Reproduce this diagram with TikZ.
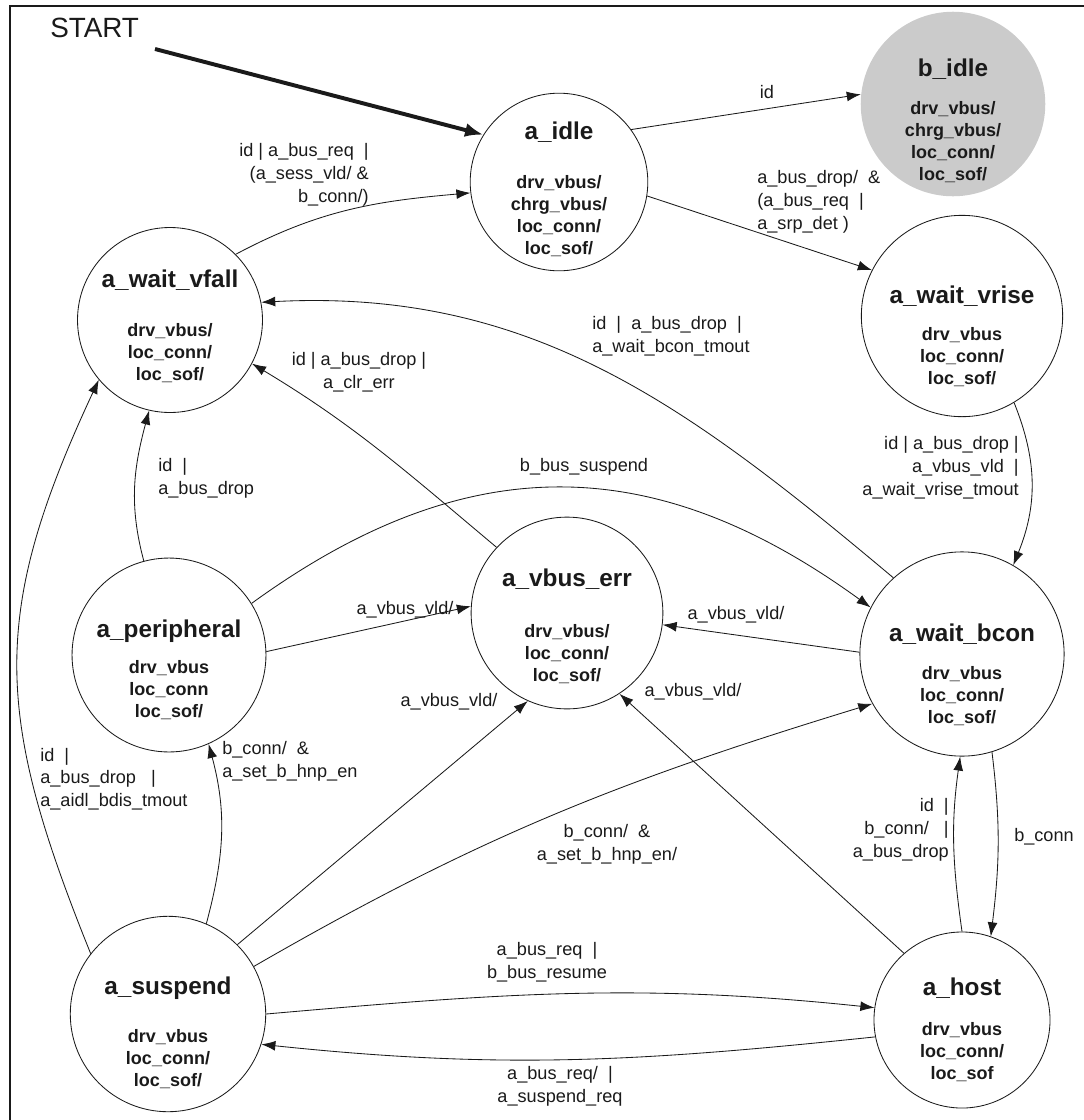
\documentclass[tikz,border=0pt]{standalone}
\usepackage{fontspec}
\setmainfont{Liberation Sans}
\usetikzlibrary{arrows.meta}
\definecolor{ink}{HTML}{1A1A1A}
\definecolor{idlegray}{HTML}{CBCBCB}
\newcommand{\stitle}[2]{{\fontsize{17.3}{20}\selectfont\rule{0pt}{#1}#2}}

\begin{document}
\begin{tikzpicture}[x=0.025cm, y=-0.025cm,
  state/.style={circle, draw=ink, line width=0.6pt, minimum size=4.4cm, inner sep=0pt, align=center, text=ink, font=\bfseries\fontsize{12.8}{15.6}\selectfont},
  cond/.style={font=\fontsize{12.9}{16.2}\selectfont, text=ink, inner sep=0pt},
  trans/.style={draw=ink, line width=0.6pt, -{Latex[length=10pt,width=7pt]}},
]
\useasboundingbox (0,0) rectangle (1084,1120);
\draw[draw=ink, line width=1.4pt] (10,1120) -- (10,6) -- (1084,6);

% states
\node[state] (idle) at (559,182) {\stitle{22.8pt}{a\_idle}\\[19.8pt]drv\_vbus/\\chrg\_vbus/\\loc\_conn/\\loc\_sof/};
\node[state, fill=idlegray, draw=none] (bidle) at (953,104) {\stitle{36.3pt}{b\_idle}\\[12pt]drv\_vbus/\\chrg\_vbus/\\loc\_conn/\\loc\_sof/};
\node[state] (vfall) at (170,320) {\stitle{21.3pt}{a\_wait\_vfall}\\[19.1pt]drv\_vbus/\\loc\_conn/\\loc\_sof/};
\node[state] (vrise) at (962,316) {\stitle{41.3pt}{a\_wait\_vrise}\\[10.6pt]drv\_vbus\\loc\_conn/\\loc\_sof/};
\node[state] (periph) at (169,655) {\stitle{33.7pt}{a\_peripheral}\\[9.6pt]drv\_vbus\\loc\_conn\\loc\_sof/};
\node[state] (vbuserr) at (567,613) {\stitle{31.3pt}{a\_vbus\_err}\\[20.5pt]drv\_vbus/\\loc\_conn/\\loc\_sof/};
\node[state] (bcon) at (962,654) {\stitle{42.3pt}{a\_wait\_bcon}\\[11.6pt]drv\_vbus\\loc\_conn/\\loc\_sof/};
\node[state] (susp) at (168,1014) {\stitle{39.1pt}{a\_suspend}\\[18.4pt]drv\_vbus\\loc\_conn/\\loc\_sof/};
\node[state] (host) at (962,1020) {\stitle{26.3pt}{a\_host}\\[12.7pt]drv\_vbus\\loc\_conn/\\loc\_sof};

% start
\node[font=\fontsize{19.8}{22}\selectfont, text=ink, anchor=west, inner sep=0pt] (starttext) at (50,28) {START};
\coordinate (start) at (155,49);
\draw[draw=ink, line width=2.8pt, -{Latex[length=13pt,width=10pt]}] (start) -- (idle.148);

% transitions
\foreach \from/\to in {idle.36/bidle.174, idle.-9/vrise.153, periph.2/vbuserr.176, bcon.179/vbuserr.-7, susp.45/vbuserr.-114, host.131/vbuserr.-57}
  \draw[trans] (\from) -- (\to);
\draw[trans] (vfall.45) to[out=28, in=185] (idle.187);
\draw[trans] (bcon.132) to[out=140, in=3] (vfall.11);
\draw[trans] (vrise.-59) to[out=-68, in=68] (bcon.60);
\draw[trans] (vbuserr.137) to[out=140, in=-31] (vfall.-28);
\draw[trans] (periph.105) to[out=105, in=-105] (vfall.-103);
\draw[trans] (periph.32) to[out=36, in=144, looseness=1.1] (bcon.153);
\draw[trans] (susp.29) to[out=30, in=197] (bcon.-151);
\draw[trans] (susp.67) to[out=75, in=-75] (periph.-66);
\draw[trans] (susp.142) to[out=112, in=-115, looseness=1.15] (vfall.-140);
\draw[trans] (susp.0) to[out=5, in=174] (host.172);
\draw[trans] (host.191) to[out=186, in=-6] (susp.-18);
\draw[trans] (host.90) to[out=98, in=-98] (bcon.-91);
\draw[trans] (bcon.-73) to[out=-83, in=83] (host.71);

% conditions
\node[cond] (lid) at (767,92) {id};
\node[cond, align=left, anchor=west] (ldrop) at (757,202) {a\_bus\_drop/\ \ \&\\(a\_bus\_req\ \ |\\a\_srp\_det )};
\node[cond, align=right, anchor=east] (lreq) at (369,175) {id | a\_bus\_req\ \ |\\(a\_sess\_vld/ \&\\b\_conn/)};
\node[cond, align=left, anchor=west] (ltmout) at (592,336) {id\ \ |\ \ a\_bus\_drop\ \ |\\a\_wait\_bcon\_tmout};
\node[cond, align=right, anchor=east] (lvrise) at (1019,468) {id | a\_bus\_drop |\\a\_vbus\_vld\ \ |\\a\_wait\_vrise\_tmout};
\node[cond, align=center] (lclr) at (359,372) {id | a\_bus\_drop |\\a\_clr\_err};
\node[cond, align=left, anchor=west] (lpdrop) at (158,478) {id\ \ |\\a\_bus\_drop};
\node[cond] (lbsusp) at (584,467) {b\_bus\_suspend};
\node[cond] (lvldp) at (405,610) {a\_vbus\_vld/};
\node[cond] (lvldb) at (736,615) {a\_vbus\_vld/};
\node[cond] (lvlds) at (449,702) {a\_vbus\_vld/};
\node[cond] (lvldh) at (693,692) {a\_vbus\_vld/};
\node[cond, align=center] (lhnp) at (607,844) {b\_conn/\ \ \&\\a\_set\_b\_hnp\_en/};
\node[cond, align=left, anchor=west] (lphnp) at (222,761) {b\_conn/\ \ \&\\a\_set\_b\_hnp\_en};
\node[cond, align=left, anchor=west] (laidl) at (40,779) {id\ \ |\\a\_bus\_drop\ \ \ |\\a\_aidl\_bdis\_tmout};
\node[cond, align=center] (lresume) at (547,962) {a\_bus\_req\ \ |\\b\_bus\_resume};
\node[cond, align=center] (lsreq) at (560,1086) {a\_bus\_req/\ \ |\\a\_suspend\_req};
\node[cond, align=right, anchor=east] (lhdrop) at (949,830) {id\ \ |\\b\_conn/\ \ \ |\\a\_bus\_drop};
\node[cond] (lbconn) at (1044,837) {b\_conn};
\end{tikzpicture}
\end{document}
